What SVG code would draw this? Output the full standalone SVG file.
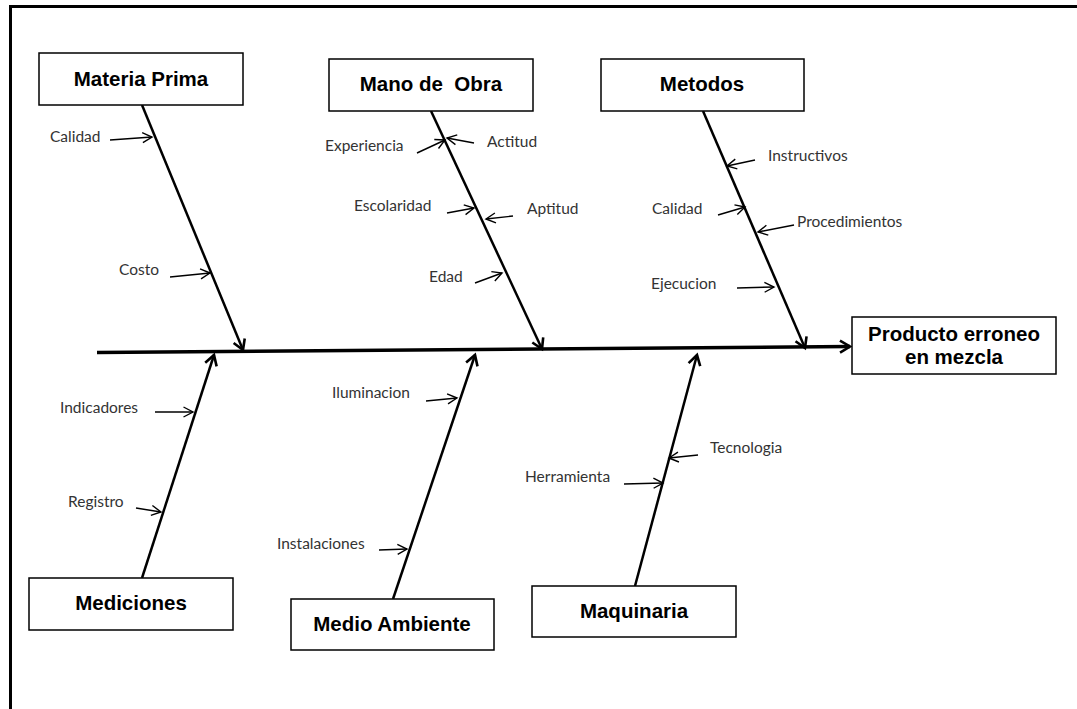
<svg xmlns="http://www.w3.org/2000/svg" width="1077" height="709" viewBox="0 0 1077 709">
  <defs>
    <!-- open chevron heads: large for the bones, small for the sub-causes -->
    <marker id="headBig" viewBox="0 0 14 14" refX="12" refY="7" markerWidth="14" markerHeight="14" markerUnits="userSpaceOnUse" orient="auto" overflow="visible">
      <path d="M2,1 L12,7 L2,13" fill="none" stroke="#000" stroke-width="2.6" stroke-linejoin="miter"/>
    </marker>
    <marker id="headSmall" viewBox="0 0 12 12" refX="10.5" refY="6" markerWidth="12" markerHeight="12" markerUnits="userSpaceOnUse" orient="auto" overflow="visible">
      <path d="M1,1 L10.5,6 L1,11" fill="none" stroke="#000" stroke-width="1.4"/>
    </marker>
    <style>
      .box { fill: #fff; stroke: #000; stroke-width: 1.5; }
      .title { font-family: "Liberation Sans", Arial, sans-serif; font-weight: bold; font-size: 20.5px; fill: #000; text-anchor: middle; }
      .lbl { font-family: Lato, "Open Sans", sans-serif; font-size: 15.5px; fill: #333; }
      .spine { stroke: #000; stroke-width: 3.4; fill: none; marker-end: url(#headBig); }
      .bone { stroke: #000; stroke-width: 2.5; fill: none; marker-end: url(#headBig); }
      .sub { stroke: #000; stroke-width: 1.4; fill: none; marker-end: url(#headSmall); }
      .frame { stroke: #000; stroke-width: 3; fill: none; }
    </style>
  </defs>

  <rect width="1077" height="709" fill="#fff"/>

  <!-- page frame (top and left edges) -->
  <path class="frame" d="M10.5,709 L10.5,6.5 L1077,6.5"/>

  <!-- connectors -->
  <g id="connectors">
    <line class="spine" x1="97" y1="352.5" x2="850" y2="346.5"/>
    <!-- upper bones -->
    <line class="bone" x1="142" y1="105" x2="243" y2="350"/>
    <line class="bone" x1="431" y1="111" x2="542" y2="349"/>
    <line class="bone" x1="703" y1="111" x2="805" y2="348"/>
    <!-- lower bones -->
    <line class="bone" x1="142" y1="578" x2="214" y2="355"/>
    <line class="bone" x1="393" y1="599" x2="475" y2="355"/>
    <line class="bone" x1="635" y1="586" x2="697" y2="355"/>

    <!-- Materia Prima causes -->
    <line class="sub" x1="110" y1="140" x2="152" y2="137"/>
    <line class="sub" x1="170" y1="277" x2="210" y2="273"/>
    <!-- Mano de Obra causes -->
    <line class="sub" x1="417" y1="153" x2="445" y2="140"/>
    <line class="sub" x1="474" y1="143" x2="447" y2="138"/>
    <line class="sub" x1="447" y1="213" x2="474" y2="208"/>
    <line class="sub" x1="513" y1="216" x2="486" y2="219"/>
    <line class="sub" x1="475" y1="283" x2="502" y2="273"/>
    <!-- Metodos causes -->
    <line class="sub" x1="755" y1="160" x2="727" y2="166"/>
    <line class="sub" x1="718" y1="215" x2="745" y2="207"/>
    <line class="sub" x1="794" y1="225" x2="758" y2="232"/>
    <line class="sub" x1="737" y1="288" x2="774" y2="287"/>
    <!-- Mediciones causes -->
    <line class="sub" x1="155" y1="412" x2="193" y2="412"/>
    <line class="sub" x1="136" y1="508" x2="161" y2="512"/>
    <!-- Medio Ambiente causes -->
    <line class="sub" x1="426" y1="401" x2="457" y2="398"/>
    <line class="sub" x1="379" y1="550" x2="407" y2="549"/>
    <!-- Maquinaria causes -->
    <line class="sub" x1="698" y1="455" x2="669" y2="458"/>
    <line class="sub" x1="624" y1="484" x2="663" y2="483"/>
  </g>

  <!-- cause labels -->
  <g id="labels">
    <text class="lbl" x="50" y="142">Calidad</text>
    <text class="lbl" x="119" y="275">Costo</text>
    <text class="lbl" x="325" y="151">Experiencia</text>
    <text class="lbl" x="487" y="147">Actitud</text>
    <text class="lbl" x="354" y="211">Escolaridad</text>
    <text class="lbl" x="527" y="214">Aptitud</text>
    <text class="lbl" x="429" y="282">Edad</text>
    <text class="lbl" x="768" y="161">Instructivos</text>
    <text class="lbl" x="652" y="214">Calidad</text>
    <text class="lbl" x="797" y="227">Procedimientos</text>
    <text class="lbl" x="651" y="289">Ejecucion</text>
    <text class="lbl" x="60" y="413">Indicadores</text>
    <text class="lbl" x="68" y="507">Registro</text>
    <text class="lbl" x="332" y="398">Iluminacion</text>
    <text class="lbl" x="277" y="549">Instalaciones</text>
    <text class="lbl" x="710" y="453">Tecnologia</text>
    <text class="lbl" x="525" y="482">Herramienta</text>
  </g>

  <!-- category boxes -->
  <g id="materia-prima">
    <rect class="box" x="39" y="53" width="204" height="52"/>
    <text class="title" x="141" y="86">Materia Prima</text>
  </g>
  <g id="mano-de-obra">
    <rect class="box" x="329" y="59" width="204" height="52"/>
    <text class="title" x="431" y="91">Mano de&#160; Obra</text>
  </g>
  <g id="metodos">
    <rect class="box" x="601" y="59" width="203" height="52"/>
    <text class="title" x="702" y="91">Metodos</text>
  </g>
  <g id="mediciones">
    <rect class="box" x="29" y="578" width="204" height="52"/>
    <text class="title" x="131" y="610">Mediciones</text>
  </g>
  <g id="medio-ambiente">
    <rect class="box" x="291" y="599" width="203" height="51"/>
    <text class="title" x="392" y="631">Medio Ambiente</text>
  </g>
  <g id="maquinaria">
    <rect class="box" x="532" y="586" width="204" height="51"/>
    <text class="title" x="634" y="618">Maquinaria</text>
  </g>

  <!-- effect box -->
  <g id="producto-erroneo">
    <rect class="box" x="852" y="317" width="204" height="57"/>
    <text class="title" x="954" y="341">Producto erroneo</text>
    <text class="title" x="954" y="364">en mezcla</text>
  </g>
</svg>
